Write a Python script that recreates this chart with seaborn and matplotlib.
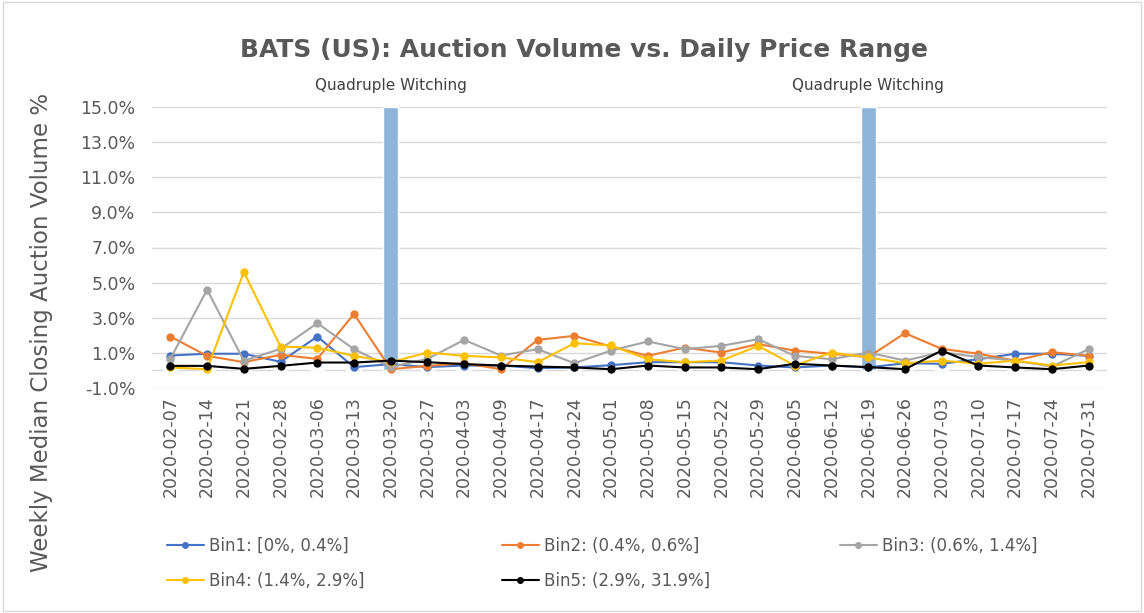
import pandas as pd
import numpy as np
import matplotlib.pyplot as plt
import matplotlib.transforms as mtransforms
import seaborn as sns

# weekly dates
dates = ['2020-02-07', '2020-02-14', '2020-02-21', '2020-02-28', '2020-03-06', '2020-03-13',
         '2020-03-20', '2020-03-27', '2020-04-03', '2020-04-09', '2020-04-17', '2020-04-24',
         '2020-05-01', '2020-05-08', '2020-05-15', '2020-05-22', '2020-05-29', '2020-06-05',
         '2020-06-12', '2020-06-19', '2020-06-26', '2020-07-03', '2020-07-10', '2020-07-17',
         '2020-07-24', '2020-07-31']

# weekly median closing auction volume (%) per price range bin
bin1 = [0.85, 0.95, 0.95, 0.49, 1.93, 0.19, 0.36, 0.19, 0.28, 0.28, 0.13, 0.17, 0.30,
        0.47, 0.47, 0.47, 0.28, 0.17, 0.28, 0.17, 0.41, 0.38, 0.64, 0.95, 0.95, 0.83]
bin2 = [1.93, 0.83, 0.47, 0.89, 0.66, 3.22, 0.07, 0.26, 0.41, 0.07, 1.74, 1.97, 1.36,
        0.83, 1.30, 1.02, 1.50, 1.13, 0.95, 0.76, 2.12, 1.23, 0.95, 0.56, 1.04, 0.83]
bin3 = [0.66, 4.60, 0.55, 1.23, 2.69, 1.21, 0.19, 0.66, 1.74, 0.85, 1.21, 0.41, 1.13,
        1.65, 1.21, 1.40, 1.78, 0.83, 0.64, 1.02, 0.56, 1.04, 0.76, 0.56, 0.22, 1.21]
bin4 = [0.17, 0.07, 5.60, 1.36, 1.29, 0.83, 0.47, 1.02, 0.83, 0.74, 0.47, 1.55, 1.42,
        0.64, 0.47, 0.56, 1.40, 0.28, 1.02, 0.74, 0.41, 0.56, 0.38, 0.56, 0.28, 0.47]
bin5 = [0.26, 0.26, 0.09, 0.26, 0.45, 0.45, 0.56, 0.47, 0.36, 0.28, 0.22, 0.17, 0.07,
        0.28, 0.17, 0.17, 0.07, 0.38, 0.28, 0.19, 0.07, 1.13, 0.28, 0.17, 0.07, 0.28]

bin_names = ['Bin1: [0%, 0.4%]', 'Bin2: (0.4%, 0.6%]', 'Bin3: (0.6%, 1.4%]',
             'Bin4: (1.4%, 2.9%]', 'Bin5: (2.9%, 31.9%]']
bin_colors = ['#4472C4', '#ED7D31', '#A5A5A5', '#FFC000', '#000000']

# quadruple witching weeks (bar up to the top of the axis)
witching_dates = ['2020-03-20', '2020-06-19']
witching_height = 15.0

df = pd.DataFrame({'date': dates})
for name, vals in zip(bin_names, [bin1, bin2, bin3, bin4, bin5]):
    df[name] = vals
long_df = df.melt(id_vars='date', var_name='bin', value_name='value')

bars = pd.DataFrame({'date': dates,
                     'height': [witching_height if d in witching_dates else 0 for d in dates]})

sns.set_style('white')
plt.rcParams['font.family'] = ['DejaVu Sans']
txt = '#595959'

fig = plt.figure(figsize=(11.44, 6.13), dpi=100)
ax = fig.add_axes([152/1144, 1-388/613, (1107-152)/1144, (388-107)/613])

sns.barplot(data=bars, x='date', y='height', color='#8EB4DA', width=0.42,
            saturation=1, ax=ax, zorder=1)
sns.lineplot(data=long_df, x='date', y='value', hue='bin', palette=bin_colors,
             marker='o', markersize=6, markeredgewidth=0, linewidth=1.5,
             legend=False, ax=ax, zorder=3)

ax.set_ylim(-1, 15)
ax.set_xlim(-0.5, len(dates) - 0.5)
ax.set_yticks(np.arange(-1, 16, 2))
ax.set_yticklabels([f'{v:.1f}%' for v in np.arange(-1, 16, 2)])
ax.yaxis.grid(True, color='#D9D9D9', linewidth=1)
ax.set_axisbelow(True)
ax.axhline(0, color='#D9D9D9', linewidth=1, zorder=0.5)
for s in ax.spines.values():
    s.set_visible(False)
ax.set_xlabel('')
ax.set_ylabel('')
ax.tick_params(axis='x', labelrotation=90, labelsize=12.5, colors=txt, length=0, pad=6)
ax.tick_params(axis='y', labelsize=12.5, colors=txt, length=0, pad=12)

# witching labels
trans = mtransforms.blended_transform_factory(ax.transData, ax.transAxes)
for d in witching_dates:
    ax.text(dates.index(d), 1.078, 'Quadruple Witching', transform=trans, ha='center',
            va='center', fontsize=11, color='#404040')

fig.text(584/1144, 1-50/613, 'BATS (US): Auction Volume vs. Daily Price Range',
         ha='center', va='center', fontsize=18, fontweight='bold', color=txt)
fig.text(42/1144, 1-332/613, 'Weekly Median Closing Auction Volume %', rotation=90,
         ha='center', va='center', fontsize=16.5, color=txt)

# legend, three columns placed by hand
handles = [plt.Line2D([], [], color=c, marker='o', markersize=4, linewidth=1.5)
           for c in bin_colors]
cols = [([0, 3], 152), ([1, 4], 487), ([2], 825)]
for idx, xpix in cols:
    fig.legend([handles[i] for i in idx], [bin_names[i] for i in idx],
               loc='upper left', bbox_to_anchor=(xpix/1144, 1-522/613), frameon=False,
               fontsize=12, labelcolor=txt, handlelength=2.2, handletextpad=0.3,
               labelspacing=1.0)

# outer chart border
fig.patches.append(plt.Rectangle((0.003, 0.003), 0.994, 0.994, transform=fig.transFigure,
                                 fill=False, edgecolor='#D9D9D9', linewidth=1))

fig.savefig('out.png', dpi=100)
